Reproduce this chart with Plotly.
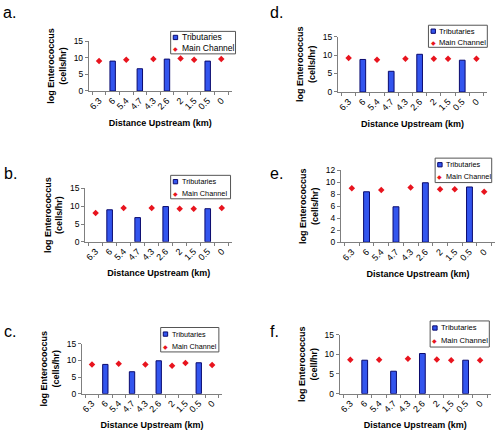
import plotly.graph_objects as go

W, H = 498, 440

# ---------------- data ----------------
categories = ["6.3", "6", "5.4", "4.7", "4.3", "2.6", "2", "1.5", "0.5", "0"]
trib_sites = ["6", "4.7", "2.6", "0.5"]
main_sites = ["6.3", "5.4", "4.3", "2", "1.5", "0"]

trib_a = [9.0, 6.7, 9.6, 9.0]
main_a = [9.0, 9.4, 9.6, 9.8, 9.4, 9.6]
trib_b = [9.0, 6.8, 9.9, 9.3]
main_b = [8.1, 9.5, 9.5, 9.3, 9.3, 9.5]
trib_c = [8.8, 6.6, 9.9, 9.3]
main_c = [8.8, 9.0, 8.8, 8.4, 9.2, 8.6]
trib_d = [8.8, 5.6, 10.2, 8.6]
main_d = [9.2, 8.7, 9.0, 9.0, 9.0, 9.0]
trib_e = [8.4, 5.9, 9.9, 9.2]
main_e = [9.0, 8.7, 9.1, 8.8, 8.8, 8.4]
trib_f = [8.5, 5.7, 10.2, 8.5]
main_f = [8.6, 8.6, 8.9, 8.7, 8.5, 8.5]

panel_labels = ["a.", "b.", "c.", "d.", "e.", "f."]
y_units = ["(cells/hr)", "(cells/hr)", "(cells/hr)", "(cells/hr)", "(cells/hr)", "(cell/hr)"]
y_max = [15, 15, 15, 15, 12, 15]
y_step = [5, 5, 5, 5, 2, 5]
series_names = ["Tributaries", "Main Channel"]

# ---------------- layout (pixels) ----------------
# plot area: left, right, top, bottom
areas = [
    (88, 231, 37, 88),
    (84.3, 231.7, 187.7, 242.3),
    (81, 221.7, 346.7, 397.7),
    (337.7, 487, 32.3, 89),
    (340.7, 495, 169, 242.7),
    (339.3, 490.7, 337.3, 397.7),
]
legend_boxes = [
    (170, 27, 235, 50),
    (170, 174.3, 230, 198.3),
    (160, 330, 218.3, 355),
    (428.3, 20.7, 487.3, 43.3),
    (435, 156.7, 491.7, 181.7),
    (430, 323.3, 489.3, 350),
]
legend_font = [8.5, 7.3, 7.2, 7.6, 7.3, 7.6]
label_pos = [(0.5, 13.3), (1.5, 177.7), (1.5, 339.3), (268, 13.3), (268, 178.3), (268, 339.3)]

FONT = "Liberation Sans, Arial, sans-serif"
BAR_FILL = "#3355EE"
BAR_LINE = "#0A0A6E"
RED = "#E8141E"
AXIS_GREY = "#7F7F7F"


def px(x):
    return x / W


def py(y):
    return 1 - y / H


tribs = [trib_a, trib_b, trib_c, trib_d, trib_e, trib_f]
mains = [main_a, main_b, main_c, main_d, main_e, main_f]

fig = go.Figure()
shapes = []
annotations = []

for i in range(6):
    n = "" if i == 0 else str(i + 1)
    xa, ya = "x" + n, "y" + n
    fig.add_trace(go.Bar(
        x=trib_sites, y=tribs[i], name=series_names[0], xaxis=xa, yaxis=ya,
        width=0.4, marker=dict(color=BAR_FILL, line=dict(color=BAR_LINE, width=1)),
        showlegend=False,
    ))
    fig.add_trace(go.Scatter(
        x=main_sites, y=mains[i], name=series_names[1], xaxis=xa, yaxis=ya,
        mode="markers", marker=dict(symbol="diamond", size=5, color=RED),
        showlegend=False,
    ))
    L, R, T, B = areas[i]
    fig.layout["xaxis" + n] = dict(
        domain=[px(L), px(R)], anchor=ya, type="category",
        categoryorder="array", categoryarray=categories,
        showline=True, linecolor=AXIS_GREY, linewidth=1,
        ticks="outside", ticklen=3, tickcolor=AXIS_GREY, tickson="boundaries",
        tickangle=-45, tickfont=dict(family=FONT, size=9, color="black"),
        showgrid=False, zeroline=False, fixedrange=True,
        title=dict(text="Distance Upstream (km)", standoff=8,
                   font=dict(family=FONT, size=9, color="black", weight="bold")),
    )
    fig.layout["yaxis" + n] = dict(
        domain=[py(B), py(T)], anchor=xa, range=[0, y_max[i]], dtick=y_step[i],
        showline=True, linecolor=AXIS_GREY, linewidth=1,
        ticks="outside", ticklen=3, tickcolor=AXIS_GREY,
        tickfont=dict(family=FONT, size=8.5, color="black"),
        showgrid=False, zeroline=False, fixedrange=True,
        title=dict(text="log Enterococcus<br>" + y_units[i], standoff=5,
                   font=dict(family=FONT, size=9, color="black", weight="bold")),
    )

    # legend box drawn by hand (compact Excel-style legend)
    lx0, ly0, lx1, ly1 = legend_boxes[i]
    shapes.append(dict(type="rect", xref="paper", yref="paper",
                       x0=px(lx0), x1=px(lx1), y0=py(ly1), y1=py(ly0),
                       line=dict(color="#555555", width=1), fillcolor="white", layer="above"))
    h = ly1 - ly0
    r1 = ly0 + h * 0.27
    r2 = ly0 + h * 0.76
    sx = lx0 + 4.8
    shapes.append(dict(type="rect", xref="paper", yref="paper",
                       x0=px(sx - 2.2), x1=px(sx + 2.2), y0=py(r1 + 2.2), y1=py(r1 - 2.2),
                       line=dict(color=BAR_LINE, width=1), fillcolor=BAR_FILL, layer="above"))
    annotations.append(dict(text="◆", xref="paper", yref="paper", x=px(sx), y=py(r2),
                            xanchor="center", yanchor="middle", showarrow=False,
                            font=dict(family="DejaVu Sans", size=6, color=RED)))
    for txt, ry in zip(series_names, (r1, r2)):
        annotations.append(dict(text=txt, xref="paper", yref="paper", x=px(lx0 + 9), y=py(ry),
                                xanchor="left", yanchor="middle", showarrow=False,
                                font=dict(family=FONT, size=legend_font[i], color="black")))

    # panel letter
    lxp, lby = label_pos[i]
    annotations.append(dict(text=panel_labels[i], xref="paper", yref="paper",
                            x=px(lxp), y=py(lby - 5.5), xanchor="left", yanchor="middle",
                            showarrow=False, font=dict(family=FONT, size=16, color="black")))

fig.update_layout(
    width=W, height=H, margin=dict(l=0, r=0, t=0, b=0),
    paper_bgcolor="white", plot_bgcolor="white",
    showlegend=False, bargap=0.6,
    font=dict(family=FONT, color="black"),
    shapes=shapes, annotations=annotations,
)

fig.write_html("out.html", config={"displayModeBar": False, "staticPlot": True},
               post_script="document.body.style.margin='0';")
